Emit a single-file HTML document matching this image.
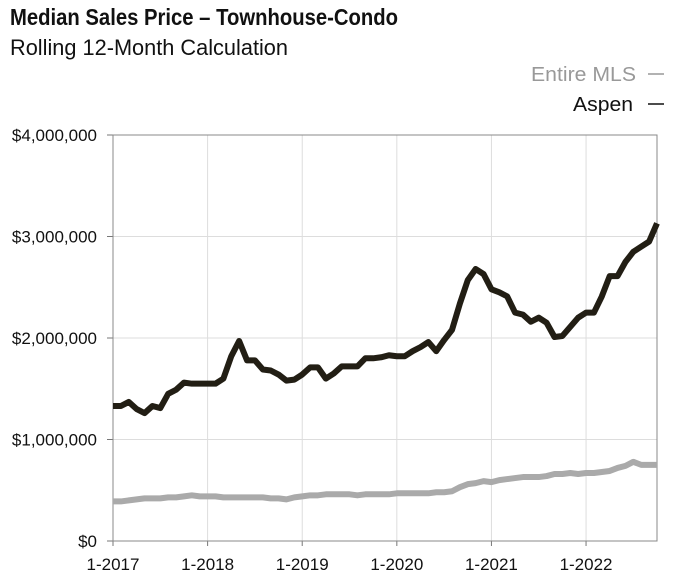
<!DOCTYPE html>
<html><head><meta charset="utf-8"><style>
body{margin:0;background:#fff;width:677px;height:582px;overflow:hidden;font-family:"Liberation Sans",sans-serif}
</style></head><body>
<svg width="677" height="582" xmlns="http://www.w3.org/2000/svg">
<text x="10" y="25" font-weight="bold" font-size="23" fill="#111" textLength="388" lengthAdjust="spacingAndGlyphs">Median Sales Price – Townhouse-Condo</text>
<text x="10" y="55" font-size="22" fill="#111" textLength="278" lengthAdjust="spacingAndGlyphs">Rolling 12-Month Calculation</text>
<g>
<text x="636" y="81" text-anchor="end" font-size="20" fill="#999" textLength="105" lengthAdjust="spacingAndGlyphs">Entire MLS</text>
<line x1="648" y1="74" x2="664" y2="74" stroke="#999" stroke-width="1.5"/>
<text x="633" y="111" text-anchor="end" font-size="20" fill="#111" textLength="60" lengthAdjust="spacingAndGlyphs">Aspen</text>
<line x1="648" y1="104" x2="664" y2="104" stroke="#111" stroke-width="1.5"/>
</g>
<g id="grid"></g><g id="axes"></g><g id="series"></g>
</svg>
<script>
const yTicks=[0,1,2,3,4];
const yTickLabels=["$0","$1,000,000","$2,000,000","$3,000,000","$4,000,000"];
const xTickIdx=[0,12,24,36,48,60];
const xTickLabels=["1-2017","1-2018","1-2019","1-2020","1-2021","1-2022"];
const aspen=[1.33,1.33,1.37,1.30,1.26,1.33,1.31,1.45,1.49,1.56,1.55,1.55,1.55,1.55,1.60,1.82,1.97,1.78,1.78,1.69,1.68,1.64,1.58,1.59,1.64,1.71,1.71,1.60,1.65,1.72,1.72,1.72,1.80,1.80,1.81,1.83,1.82,1.82,1.87,1.91,1.96,1.87,1.98,2.08,2.34,2.57,2.68,2.63,2.48,2.45,2.41,2.25,2.23,2.16,2.20,2.15,2.01,2.02,2.11,2.20,2.25,2.25,2.41,2.61,2.61,2.75,2.85,2.90,2.95,3.13];
const entireMLS=[.39,.39,.40,.41,.42,.42,.42,.43,.43,.44,.45,.44,.44,.44,.43,.43,.43,.43,.43,.43,.42,.42,.41,.43,.44,.45,.45,.46,.46,.46,.46,.45,.46,.46,.46,.46,.47,.47,.47,.47,.47,.48,.48,.49,.53,.56,.57,.59,.58,.60,.61,.62,.63,.63,.63,.64,.66,.66,.67,.66,.67,.67,.68,.69,.72,.74,.78,.75,.75,.75];
const L=113,R=657,T=135,B=541,N=aspen.length;
const x=i=>L+i*(R-L)/(N-1);
const y=v=>B-v*(B-T)/4;
const NS="http://www.w3.org/2000/svg";
function mk(p,t,a){const e=document.createElementNS(NS,t);for(const k in a)e.setAttribute(k,a[k]);p.appendChild(e);return e;}
const grid=document.getElementById('grid'),axes=document.getElementById('axes'),ser=document.getElementById('series');
yTicks.forEach((v,k)=>{
 const g=mk(grid,'line',{x1:L,x2:R,y1:y(v),y2:y(v),stroke:'#ddd','stroke-width':1});
 
 
 const tk=mk(axes,'line',{x1:L-6,x2:L,y1:y(v),y2:y(v),stroke:'#777','stroke-width':1});
 
 
 const t=mk(axes,'text',{x:L-16,y:y(v)+6,'text-anchor':'end','font-size':'17',fill:'#111'});
 t.textContent=yTickLabels[k];
 
 
});
xTickIdx.forEach((i,k)=>{
 if(i>0){const g=mk(grid,'line',{x1:x(i),x2:x(i),y1:T,y2:B,stroke:'#ddd','stroke-width':1});
 
 }
 const tk=mk(axes,'line',{x1:x(i),x2:x(i),y1:B,y2:B+5,stroke:'#777','stroke-width':1});
 
 
 const t=mk(axes,'text',{x:x(i),y:570,'text-anchor':'middle','font-size':'17',fill:'#111'});
 t.textContent=xTickLabels[k];
 
 
});
const fr=mk(axes,'rect',{x:L,y:T,width:R-L,height:B-T,fill:'none',stroke:'#888','stroke-width':1});


function line(d,c,name){
 const p=mk(ser,'polyline',{points:d.map((v,i)=>x(i)+','+y(v)).join(' '),fill:'none',stroke:c,'stroke-width':6,'stroke-linejoin':'round'});
 
 
}
line(entireMLS,'#aaa','entire-mls-line');
line(aspen,'#221e14','aspen-line');
</script>
</body></html>
